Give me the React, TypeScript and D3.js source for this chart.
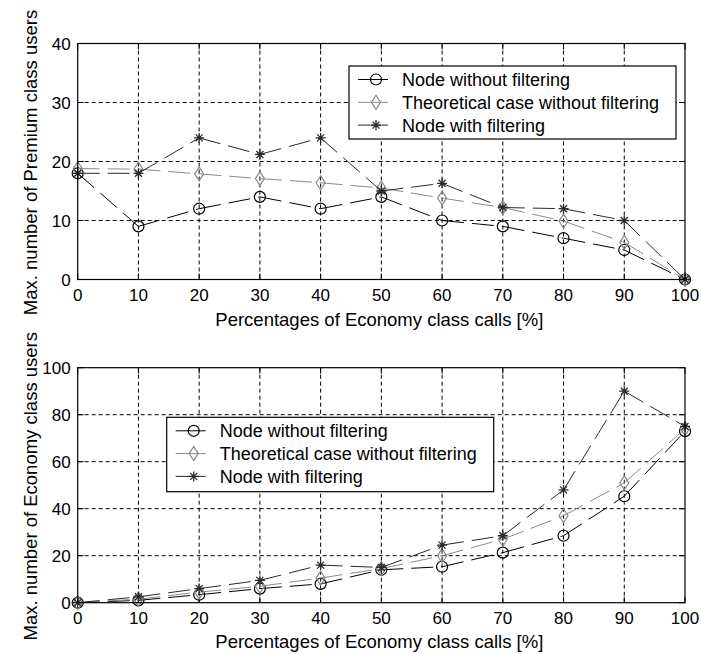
import React from "react";
import * as d3 from "d3";

const xValues = [0, 10, 20, 30, 40, 50, 60, 70, 80, 90, 100];
const xTicks = [0, 10, 20, 30, 40, 50, 60, 70, 80, 90, 100];

const premiumWithout = [18, 9, 12, 14, 12, 14, 10, 9, 7, 5, 0];
const premiumTheory = [18.8, 18.7, 17.9, 17.1, 16.4, 15.5, 13.8, 12.2, 9.9, 6.3, 0];
const premiumWith = [18, 18, 24, 21.2, 24, 15, 16.3, 12.2, 12, 10, 0];
const premiumYTicks = [0, 10, 20, 30, 40];

const economyWithout = [0, 1, 3.4, 6, 8, 14, 15.3, 21.3, 28.5, 45.3, 73];
const economyTheory = [0, 1.5, 4.5, 7, 10.5, 14.5, 20, 27, 37, 51, 74];
const economyWith = [0, 2.5, 6, 9.5, 16, 15, 24.5, 28.5, 48, 90, 75];
const economyYTicks = [0, 20, 40, 60, 80, 100];

const seriesNames = ["Node without filtering", "Theoretical case without filtering", "Node with filtering"];
const seriesColors = ["#000000", "#8a8a8a", "#2a2a2a"];
const seriesMarkers = ["circle", "diamond", "star"];

const FONT = "'Liberation Sans', Arial, sans-serif";

function Marker({ type, x, y, color }: { type: string; x: number; y: number; color: string }) {
  if (type === "circle") {
    return <circle cx={x} cy={y} r={5.5} fill="none" stroke={color} strokeWidth={1.2} />;
  }
  if (type === "diamond") {
    const w = 4.5, h = 7;
    return (
      <path
        d={`M${x},${y - h}L${x + w},${y}L${x},${y + h}L${x - w},${y}Z`}
        fill="none"
        stroke={color}
        strokeWidth={1.2}
      />
    );
  }
  const r = 5;
  const d: string[] = [];
  d.push(`M${x - r},${y}L${x + r},${y}`);
  d.push(`M${x},${y - r}L${x},${y + r}`);
  const k = r * 0.7;
  d.push(`M${x - k},${y - k}L${x + k},${y + k}`);
  d.push(`M${x - k},${y + k}L${x + k},${y - k}`);
  return <path d={d.join("")} stroke={color} strokeWidth={1.3} fill="none" />;
}

function Panel({
  top,
  bottom,
  yMax,
  yTicks,
  data,
  yLabel,
  xLabelY,
  legend,
}: {
  top: number;
  bottom: number;
  yMax: number;
  yTicks: number[];
  data: number[][];
  yLabel: string;
  xLabelY: number;
  legend: { x: number; y: number; w: number; h: number };
}) {
  const left = 77.7;
  const right = 685;
  const x = d3.scaleLinear().domain([0, 100]).range([left, right]);
  const y = d3.scaleLinear().domain([0, yMax]).range([bottom, top]);
  const tickLen = 6;
  const seg = d3
    .line<[number, number]>()
    .x((p) => x(p[0]))
    .y((p) => y(p[1]));
  return (
    <g>
      {/* grid */}
      {xTicks.slice(1, -1).map((t) => (
        <line key={"gx" + t} x1={x(t)} x2={x(t)} y1={top} y2={bottom} stroke="#000" strokeWidth={1} strokeDasharray="4,3" />
      ))}
      {yTicks.slice(1, -1).map((t) => (
        <line key={"gy" + t} x1={left} x2={right} y1={y(t)} y2={y(t)} stroke="#000" strokeWidth={1} strokeDasharray="4,3" />
      ))}
      {/* ticks */}
      {xTicks.map((t) => (
        <g key={"tx" + t}>
          <line x1={x(t)} x2={x(t)} y1={bottom} y2={bottom - tickLen} stroke="#000" />
          <line x1={x(t)} x2={x(t)} y1={top} y2={top + tickLen} stroke="#000" />
          <text x={x(t)} y={bottom + 21.5} textAnchor="middle" fontSize={17} fontFamily={FONT}>
            {t}
          </text>
        </g>
      ))}
      {yTicks.map((t) => (
        <g key={"ty" + t}>
          <line x1={left} x2={left + tickLen} y1={y(t)} y2={y(t)} stroke="#000" />
          <line x1={right} x2={right - tickLen} y1={y(t)} y2={y(t)} stroke="#000" />
          <text x={left - 7} y={y(t) + 6} textAnchor="end" fontSize={17} fontFamily={FONT}>
            {t}
          </text>
        </g>
      ))}
      {/* series */}
      {data.map((vals, i) => (
        <g key={"s" + i}>
          {vals.slice(1).map((v, j) => (
            <path
              key={"seg" + j}
              d={seg([[xValues[j], vals[j]], [xValues[j + 1], v]]) || ""}
              fill="none"
              stroke={seriesColors[i]}
              strokeWidth={1}
              strokeDasharray="22,8"
            />
          ))}
          {vals.map((v, j) => (
            <Marker key={j} type={seriesMarkers[i]} x={x(xValues[j])} y={y(v)} color={seriesColors[i]} />
          ))}
        </g>
      ))}
      {/* box */}
      <rect x={left} y={top} width={right - left} height={bottom - top} fill="none" stroke="#000" strokeWidth={1.2} />
      {/* labels */}
      <text x={(left + right) / 2 - 2} y={xLabelY} textAnchor="middle" fontSize={18.5} fontFamily={FONT}>
        Percentages of Economy class calls [%]
      </text>
      <text
        transform={`translate(37,${(top + bottom) / 2 + 1}) rotate(-90)`}
        textAnchor="middle"
        fontSize={18.5}
        fontFamily={FONT}
      >
        {yLabel}
      </text>
      {/* legend */}
      <rect x={legend.x} y={legend.y} width={legend.w} height={legend.h} fill="#fff" stroke="#000" strokeWidth={1.2} />
      {seriesNames.map((name, i) => {
        const base = legend.y + 20 + i * 22.8;
        const cy = base - 6.5;
        return (
          <g key={"l" + i}>
            <line x1={legend.x + 9} x2={legend.x + 39} y1={cy} y2={cy} stroke={seriesColors[i]} strokeWidth={1} />
            <Marker type={seriesMarkers[i]} x={legend.x + 27} y={cy} color={seriesColors[i]} />
            <text x={legend.x + 53} y={base} fontSize={18} fontFamily={FONT}>
              {name}
            </text>
          </g>
        );
      })}
    </g>
  );
}

export default function App() {
  return (
    <svg width={701} height={654} style={{ display: "block", position: "absolute", left: 0, top: 0, background: "#fff" }}>
      <rect x={0} y={0} width={701} height={654} fill="#fff" />
      <Panel
        top={43.5}
        bottom={279.5}
        yMax={40}
        yTicks={premiumYTicks}
        data={[premiumWithout, premiumTheory, premiumWith]}
        yLabel="Max. number of Premium class users"
        xLabelY={326}
        legend={{ x: 349, y: 66, w: 327, h: 73 }}
      />
      <Panel
        top={367.7}
        bottom={602.7}
        yMax={100}
        yTicks={economyYTicks}
        data={[economyWithout, economyTheory, economyWith]}
        yLabel="Max. number of Economy class users"
        xLabelY={648}
        legend={{ x: 166.7, y: 417.3, w: 327, h: 74.4 }}
      />
    </svg>
  );
}
